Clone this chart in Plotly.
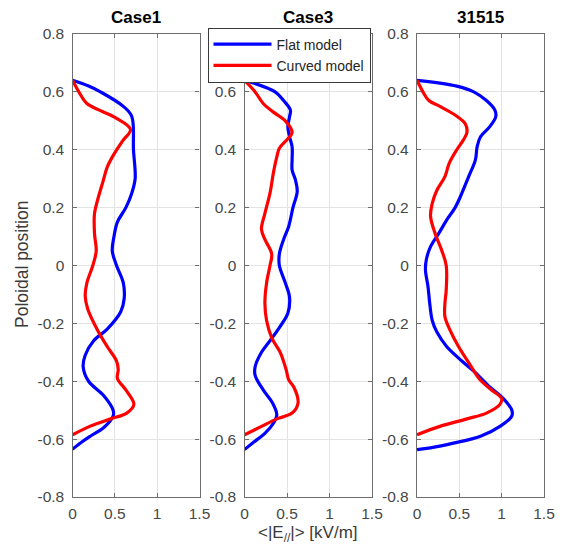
import plotly.graph_objects as go

titles = ["Case1", "Case3", "31515"]

# Panel 1 (Case1)
c1_flat_y = [0.64, 0.62, 0.60, 0.55, 0.515, 0.40, 0.30, 0.25, 0.20, 0.15, 0.10, 0.05, 0.0,
             -0.06, -0.115, -0.16, -0.22, -0.26, -0.31, -0.35, -0.40, -0.45, -0.50, -0.52,
             -0.56, -0.59, -0.61, -0.635]
c1_flat_x = [0.0, 0.19, 0.33, 0.60, 0.70, 0.72, 0.74, 0.70, 0.63, 0.53, 0.49, 0.47, 0.52,
             0.60, 0.61, 0.57, 0.41, 0.25, 0.15, 0.126, 0.19, 0.37, 0.48, 0.48,
             0.37, 0.21, 0.11, 0.0]
c1_curv_y = [0.64, 0.60, 0.56, 0.535, 0.51, 0.47, 0.43, 0.385, 0.34, 0.29, 0.23, 0.18, 0.11,
             0.05, 0.0, -0.06, -0.105, -0.15, -0.22, -0.28, -0.33, -0.36, -0.39, -0.43,
             -0.48, -0.51, -0.53, -0.555, -0.585]
c1_curv_x = [0.0, 0.075, 0.17, 0.33, 0.51, 0.685, 0.59, 0.49, 0.41, 0.36, 0.30, 0.26, 0.26,
             0.28, 0.24, 0.17, 0.15, 0.18, 0.29, 0.41, 0.52, 0.54, 0.53, 0.63,
             0.725, 0.64, 0.45, 0.21, 0.0]

# Panel 2 (Case3)
c3_flat_y = [0.64, 0.60, 0.57, 0.537, 0.514, 0.48, 0.445, 0.41, 0.365, 0.33, 0.295, 0.255,
             0.20, 0.135, 0.09, 0.04, 0.0, -0.06, -0.11, -0.165, -0.21, -0.26, -0.30, -0.35,
             -0.38, -0.43, -0.475, -0.516, -0.545, -0.58, -0.61, -0.636]
c3_flat_x = [0.0, 0.36, 0.46, 0.54, 0.53, 0.51, 0.53, 0.56, 0.56, 0.56, 0.60, 0.62,
             0.57, 0.52, 0.46, 0.41, 0.41, 0.48, 0.53, 0.51, 0.42, 0.30, 0.20, 0.125,
             0.125, 0.22, 0.33, 0.38, 0.34, 0.24, 0.11, 0.0]
c3_curv_y = [0.64, 0.60, 0.56, 0.53, 0.50, 0.46, 0.435, 0.405, 0.375, 0.32, 0.25, 0.18,
             0.125, 0.09, 0.04, 0.0, -0.06, -0.13, -0.19, -0.25, -0.30, -0.36, -0.395,
             -0.42, -0.475, -0.51, -0.53, -0.556, -0.585]
c3_curv_x = [0.0, 0.125, 0.22, 0.34, 0.48, 0.56, 0.50, 0.41, 0.38, 0.34, 0.30, 0.24,
             0.20, 0.24, 0.32, 0.30, 0.26, 0.24, 0.26, 0.32, 0.42, 0.49, 0.52,
             0.58, 0.63, 0.56, 0.38, 0.20, 0.0]

# Panel 3 (31515)
s_flat_y = [0.64, 0.62, 0.60, 0.57, 0.537, 0.514, 0.48, 0.445, 0.41, 0.365, 0.307, 0.25,
            0.20, 0.157, 0.11, 0.065, 0.02, -0.016, -0.073, -0.13, -0.19, -0.23, -0.28,
            -0.33, -0.37, -0.42, -0.46, -0.50, -0.52, -0.556, -0.59, -0.614, -0.63, -0.636]
s_flat_x = [0.0, 0.47, 0.67, 0.82, 0.92, 0.93, 0.86, 0.75, 0.71, 0.69, 0.61, 0.53,
            0.45, 0.35, 0.255, 0.16, 0.11, 0.10, 0.13, 0.15, 0.18, 0.235, 0.35,
            0.53, 0.69, 0.86, 1.02, 1.12, 1.12, 0.98, 0.75, 0.43, 0.16, 0.0]
s_curv_y = [0.64, 0.60, 0.57, 0.55, 0.52, 0.49, 0.46, 0.435, 0.40, 0.353, 0.307, 0.26,
            0.215, 0.17, 0.11, 0.054, 0.0, -0.085, -0.13, -0.177, -0.223, -0.28, -0.34,
            -0.395, -0.43, -0.46, -0.48, -0.51, -0.53, -0.556, -0.585]
s_curv_x = [0.0, 0.07, 0.14, 0.27, 0.45, 0.57, 0.59, 0.55, 0.47, 0.38, 0.33, 0.235,
            0.18, 0.16, 0.215, 0.29, 0.345, 0.345, 0.33, 0.33, 0.39, 0.49, 0.62,
            0.745, 0.88, 1.0, 0.98, 0.82, 0.59, 0.27, 0.0]

flat_sets = [(c1_flat_x, c1_flat_y), (c3_flat_x, c3_flat_y), (s_flat_x, s_flat_y)]
curv_sets = [(c1_curv_x, c1_curv_y), (c3_curv_x, c3_curv_y), (s_curv_x, s_curv_y)]

xtick_vals = [0, 0.5, 1, 1.5]
xtick_text = ["0", "0.5", "1", "1.5"]
ytick_vals = [0.8, 0.6, 0.4, 0.2, 0, -0.2, -0.4, -0.6, -0.8]
ytick_text = ["0.8", "0.6", "0.4", "0.2", "0", "-0.2", "-0.4", "-0.6", "-0.8"]

# page body has an 8px margin: figure is 558x542 and placed at (8, 8)
OFF = 8
W, H = 566 - OFF, 550 - OFF


def px(x):
    return (x - OFF) / W


def py(y):
    return 1 - (y - OFF) / H


panels_px = [(72.5, 199.5), (244.5, 372), (417, 544)]
top_px, bot_px = 34, 497

fig = go.Figure()
font_family = "Liberation Sans, Arial, sans-serif"
axis_color = "#6e6e6e"
text_color = "#474747"

for i in range(3):
    xa = "x" if i == 0 else f"x{i+1}"
    ya = "y" if i == 0 else f"y{i+1}"
    fx, fy = flat_sets[i]
    cx, cy = curv_sets[i]
    fig.add_trace(go.Scatter(x=fx, y=fy, mode="lines", line=dict(color="#0000ff", width=3.2, shape="spline", smoothing=1.0),
                             name="Flat model", showlegend=(i == 0), xaxis=xa, yaxis=ya))
    fig.add_trace(go.Scatter(x=cx, y=cy, mode="lines", line=dict(color="#ff0000", width=3.2, shape="spline", smoothing=1.0),
                             name="Curved model", showlegend=(i == 0), xaxis=xa, yaxis=ya))

layout = dict(
    template="none",
    width=W, height=H,
    margin=dict(l=0, r=0, t=0, b=0, pad=0, autoexpand=False),
    paper_bgcolor="white", plot_bgcolor="white",
    font=dict(family=font_family, size=13, color=text_color),
    legend=dict(x=px(207.5), y=py(27.5), xanchor="left", yanchor="top",
                bgcolor="white", bordercolor="#3a3a3a", borderwidth=1,
                font=dict(size=14, color="#262626"), itemwidth=58,
                tracegroupgap=0, traceorder="normal"),
    annotations=[],
)

for i in range(3):
    xk = "xaxis" if i == 0 else f"xaxis{i+1}"
    yk = "yaxis" if i == 0 else f"yaxis{i+1}"
    x0, x1 = panels_px[i]
    layout[xk] = dict(domain=[px(x0), px(x1)], range=[0, 1.5], tickvals=xtick_vals, ticktext=xtick_text,
                      showline=True, linecolor=axis_color, linewidth=1.3, mirror="ticks",
                      ticks="inside", ticklen=4, tickcolor=axis_color, automargin=False,
                      showgrid=True, gridcolor="#e3e3e3", gridwidth=1, zeroline=False,
                      ticklabelstandoff=2,
                      tickfont=dict(size=15.5, color=text_color), anchor="y" if i == 0 else f"y{i+1}", fixedrange=True)
    layout[yk] = dict(domain=[py(bot_px), py(top_px)], range=[-0.8, 0.8], tickvals=ytick_vals, ticktext=ytick_text,
                      showline=True, linecolor=axis_color, linewidth=1.3, mirror="ticks",
                      ticks="inside", ticklen=4, tickcolor=axis_color, automargin=False,
                      showgrid=True, gridcolor="#e3e3e3", gridwidth=1, zeroline=False,
                      ticklabelstandoff=4,
                      tickfont=dict(size=15.5, color=text_color), anchor="x" if i == 0 else f"x{i+1}", fixedrange=True)
    layout["annotations"].append(dict(text=f"<b>{titles[i]}</b>", x=px((x0 + x1) / 2), y=py(18),
                                      xref="paper", yref="paper", showarrow=False,
                                      font=dict(size=17, color="#000000"), xanchor="center", yanchor="middle"))

layout["annotations"].append(dict(text="Poloidal position", x=px(22), y=py(265), xref="paper", yref="paper",
                                  showarrow=False, textangle=-90, font=dict(size=17.5, color="#3a3a3a"),
                                  xanchor="center", yanchor="middle"))
layout["annotations"].append(dict(text="&lt;|E<sub>//</sub>|&gt; [kV/m]", x=px(308), y=py(534),
                                  xref="paper", yref="paper", showarrow=False,
                                  font=dict(size=17, color="#3a3a3a"), xanchor="center", yanchor="middle"))

fig.update_layout(**layout)
fig.write_html("out.html")
